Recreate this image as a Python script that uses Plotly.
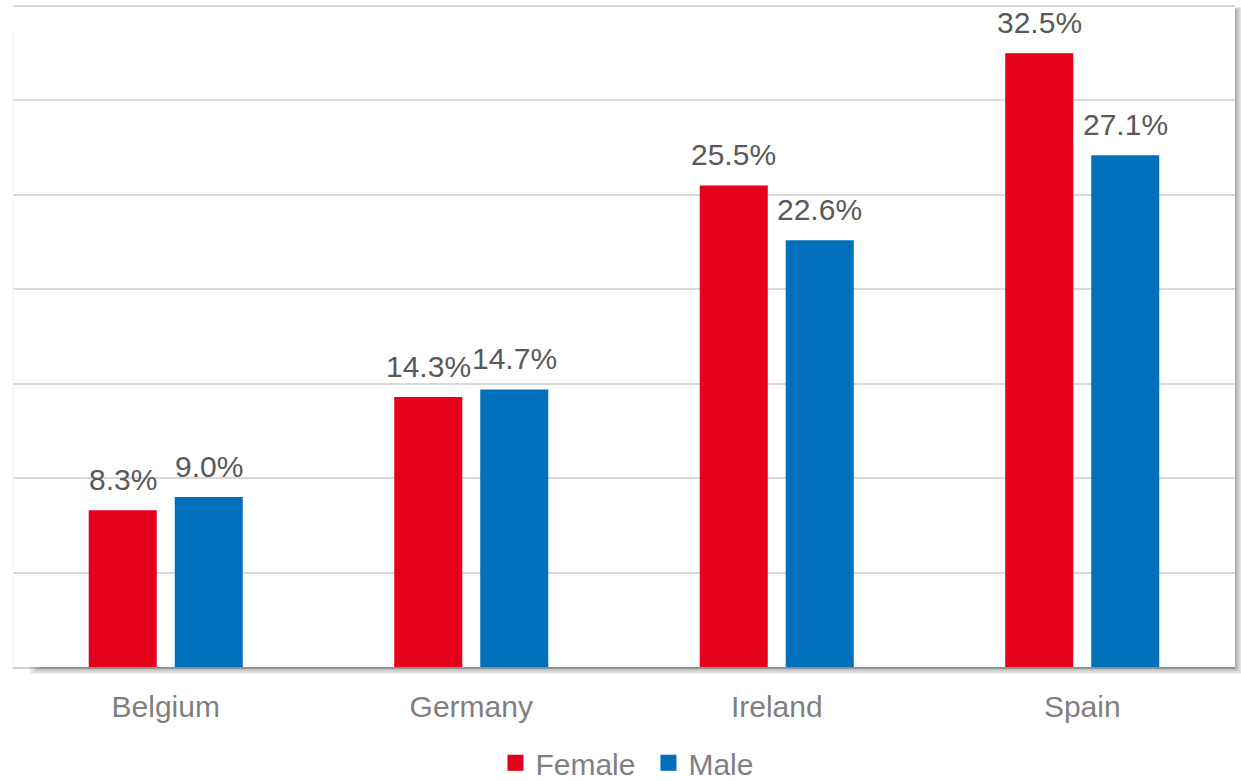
import plotly.graph_objects as go

# Rates by country and sex (%)
countries = ["Belgium", "Germany", "Ireland", "Spain"]
female = [8.3, 14.3, 25.5, 32.5]
male = [9.0, 14.7, 22.6, 27.1]
series_names = ["Female", "Male"]
series_colors = ["#E3001B", "#0070BB"]

W, H = 1241, 781
ML, MR, MT, MB = 13, 6, 6, 114
PW, PH = W - ML - MR, H - MT - MB

FONT = "Liberation Sans, Arial, sans-serif"
FS = 30

fig = go.Figure()
for name, vals, col in zip(series_names, [female, male], series_colors):
    fig.add_trace(go.Bar(
        x=countries, y=vals, name=name, marker_color=col,
        marker_line_width=0, showlegend=False,
    ))
    # legend swatch
    fig.add_trace(go.Scatter(
        x=[None], y=[None], mode="markers", name=name,
        marker=dict(symbol="square", size=16, color=col),
    ))

# value labels above each bar
for vals, shift in [(female, -43), (male, 43)]:
    for c, v in zip(countries, vals):
        fig.add_annotation(
            x=c, y=v, text=f"{v:.1f}%", showarrow=False,
            xshift=shift, yshift=12, yanchor="bottom",
            font=dict(family=FONT, size=FS, color="#595959"),
        )

# soft drop shadow along the right and bottom edges of the plot area
shapes = []
for i in range(1, 8):
    a = 0.05
    shapes.append(dict(  # right strip
        type="rect", xref="paper", yref="paper",
        x0=1, x1=1 + i / PW, y0=-i / PH, y1=1 - (4 - i * 0.4) / PH,
        fillcolor=f"rgba(0,0,0,{a})", line_width=0, layer="above",
    ))
    shapes.append(dict(  # bottom strip
        type="rect", xref="paper", yref="paper",
        x0=(30 - i * 2) / PW, x1=1, y0=-i / PH, y1=0,
        fillcolor=f"rgba(0,0,0,{a})", line_width=0, layer="above",
    ))
# faint left border and top frame line
shapes.append(dict(type="line", xref="paper", yref="paper", x0=0, x1=0, y0=0, y1=0.96,
                   line=dict(color="#f2f2f2", width=1), layer="above"))
shapes.append(dict(type="line", xref="paper", yref="paper", x0=0, x1=1, y0=1, y1=1,
                   line=dict(color="#d9d9d9", width=2), layer="below"))
fig.update_layout(shapes=shapes)

fig.update_layout(
    width=W, height=H,
    margin=dict(l=ML, r=MR, t=MT, b=MB, autoexpand=False),
    paper_bgcolor="white", plot_bgcolor="white",
    barmode="group", bargap=0.437, bargroupgap=0.209,
    font=dict(family=FONT, size=FS, color="#7f7f7f"),
    legend=dict(
        orientation="h", x=0.52, xanchor="center", y=-0.145, yanchor="middle",
        font=dict(family=FONT, size=FS, color="#7f7f7f"),
        itemwidth=30, entrywidth=108, tracegroupgap=0, bgcolor="rgba(0,0,0,0)",
    ),
    xaxis=dict(
        showgrid=False, showline=True, linecolor="#d0d0d0", linewidth=2,
        ticks="", ticklabelstandoff=12,
        tickfont=dict(family=FONT, size=FS, color="#7f7f7f"),
    ),
    yaxis=dict(
        range=[0, 35], dtick=5, showticklabels=False, zeroline=False,
        showgrid=True, gridcolor="#d9d9d9", gridwidth=1.5,
    ),
)

fig.write_html("out.html")
